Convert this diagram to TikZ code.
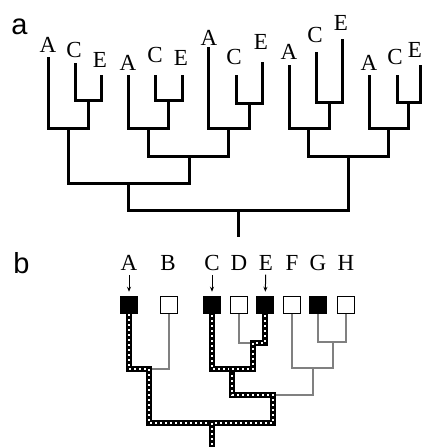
\documentclass[tikz,border=0pt]{standalone}
\usepackage{fontspec}
\setmainfont{Liberation Serif}
\setsansfont{Liberation Sans}
\usetikzlibrary{arrows.meta}
\tikzset{
    branch/.style = {line width = 3pt},
    taxon/.style = {font = \fontsize{23}{23}\selectfont, inner sep = 1pt},
    panel/.style = {font = \sffamily\fontsize{29}{29}\selectfont, inner sep = 0pt},
    charbox/.style = {draw, line width = 1.5pt, minimum size = 17pt, inner sep = 0pt},
    onbox/.style = {charbox, fill = black},
    offbox/.style = {charbox, fill = white},
    greyline/.style = {draw = black!50, line width = 1.8pt},
    traced/.style = {line width = 6pt, line cap = rect, postaction = {draw = white, line width = 2pt, line cap = butt, dash pattern = on 2pt off 3pt}},
    pointer/.style = {-{Stealth[length = 5pt, width = 4pt]}, line width = 1pt, shorten < = 3pt, shorten > = 4pt}
}
\begin{document}
\begin{tikzpicture}[x = 1pt, y = -1pt]
    \useasboundingbox (0,0) rectangle (423,447);

    \node[panel] (pa) at (19.5,27) {a};
    \node[panel] (pb) at (21.5,263) {b};

    \coordinate (t1a) at (48,57);
    \coordinate (t1c) at (75,63);
    \coordinate (t1e) at (101,75);
    \coordinate (t1ce) at (88,100);
    \coordinate (t1) at (68,128);
    \node[taxon] (l1a) at (48,45) {A};
    \node[taxon] (l1c) at (74,50) {C};
    \node[taxon] (l1e) at (100,60) {E};

    \coordinate (t2a) at (128,75);
    \coordinate (t2c) at (155,75);
    \coordinate (t2e) at (182,75);
    \coordinate (t2ce) at (168,100);
    \coordinate (t2) at (148,128);
    \node[taxon] (l2a) at (128,63) {A};
    \node[taxon] (l2c) at (155,55) {C};
    \node[taxon] (l2e) at (181,58) {E};

    \coordinate (t3a) at (208,47);
    \coordinate (t3c) at (236,75);
    \coordinate (t3e) at (262,62);
    \coordinate (t3ce) at (249,103);
    \coordinate (t3) at (228,128);
    \node[taxon] (l3a) at (209,38) {A};
    \node[taxon] (l3c) at (234,57) {C};
    \node[taxon] (l3e) at (261,42) {E};

    \coordinate (t4a) at (289,65);
    \coordinate (t4c) at (316,52);
    \coordinate (t4e) at (342,39);
    \coordinate (t4ce) at (329,102);
    \coordinate (t4) at (308,128);
    \node[taxon] (l4a) at (289,52) {A};
    \node[taxon] (l4c) at (315,35) {C};
    \node[taxon] (l4e) at (341,23) {E};

    \coordinate (t5a) at (369,75);
    \coordinate (t5c) at (397,75);
    \coordinate (t5e) at (420,65);
    \coordinate (t5ce) at (408.5,102);
    \coordinate (t5) at (388,128);
    \node[taxon] (l5a) at (369,63) {A};
    \node[taxon] (l5c) at (395,57) {C};
    \node[taxon] (l5e) at (415,50) {E};

    \coordinate (t23) at (189,156);
    \coordinate (t123) at (128,183);
    \coordinate (t45) at (348,156);
    \coordinate (top) at (238,210);
    \coordinate (topend) at (238,237);

    \draw[branch] (t1c) |- (t1ce) -| (t1e);
    \draw[branch] (t1a) |- (t1) -| (t1ce);
    \draw[branch] (t2c) |- (t2ce) -| (t2e);
    \draw[branch] (t2a) |- (t2) -| (t2ce);
    \draw[branch] (t3c) |- (t3ce) -| (t3e);
    \draw[branch] (t3a) |- (t3) -| (t3ce);
    \draw[branch] (t4c) |- (t4ce) -| (t4e);
    \draw[branch] (t4a) |- (t4) -| (t4ce);
    \draw[branch] (t5c) |- (t5ce) -| (t5e);
    \draw[branch] (t5a) |- (t5) -| (t5ce);
    \draw[branch] (t2) |- (t23) -| (t3);
    \draw[branch] (t1) |- (t123) -| (t23);
    \draw[branch] (t4) |- (t45) -| (t5);
    \draw[branch] (t123) |- (top) -| (t45);
    \draw[branch] (top) -- (topend);

    \node[taxon] (bA) at (129,263) {A};
    \node[taxon] (bB) at (168,263) {B};
    \node[taxon] (bC) at (212,263) {C};
    \node[taxon] (bD) at (239,263) {D};
    \node[taxon] (bE) at (266,263) {E};
    \node[taxon] (bF) at (292,263) {F};
    \node[taxon] (bG) at (318,263) {G};
    \node[taxon] (bH) at (346,263) {H};

    \node[onbox] (sqA) at (129,305) {};
    \node[offbox] (sqB) at (169,305) {};
    \node[onbox] (sqC) at (212,305) {};
    \node[offbox] (sqD) at (239,305) {};
    \node[onbox] (sqE) at (265,305) {};
    \node[offbox] (sqF) at (292,305) {};
    \node[onbox] (sqG) at (318,305) {};
    \node[offbox] (sqH) at (346,305) {};

    \draw[pointer] (bA) -- (sqA);
    \draw[pointer] (bC) -- (sqC);
    \draw[pointer] (bE) -- (sqE);

    \coordinate (ab) at (149,369);
    \coordinate (de) at (253,343);
    \coordinate (cde) at (232,369);
    \coordinate (gh) at (333,342);
    \coordinate (fgh) at (313,368);
    \coordinate (cf) at (273,395);
    \coordinate (bot) at (212,423);
    \coordinate (botend) at (212,452);

    \draw[greyline] (sqB.south) |- (ab);
    \draw[greyline] (sqD.south) |- (de);
    \draw[greyline] (sqG.south) |- (gh) -| (sqH.south);
    \draw[greyline] (sqF.south) |- (fgh) -| (gh);
    \draw[greyline] (cf) -| (fgh);

    \draw[traced] (sqA.south) |- (ab) |- (bot) -| (cf) -| (cde) -| (sqC.south);
    \draw[traced] (cde) -| (de) -| (sqE.south);
    \draw[traced] (bot) -- (botend);
\end{tikzpicture}
\end{document}
